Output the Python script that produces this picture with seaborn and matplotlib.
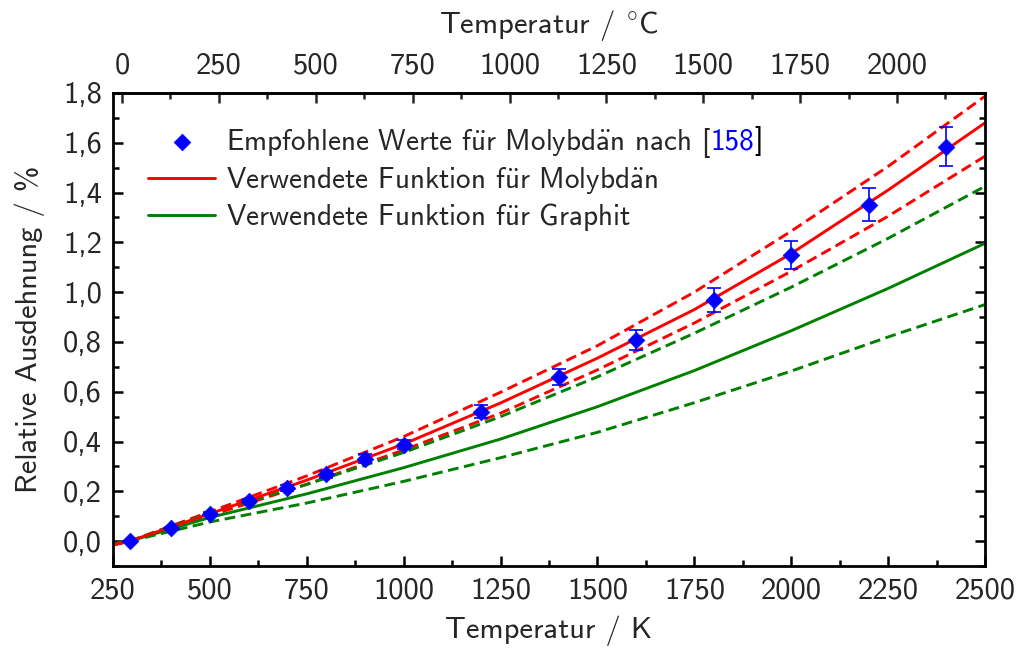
import numpy as np
import pandas as pd
import matplotlib
matplotlib.use("Agg")
import matplotlib.pyplot as plt
from matplotlib.ticker import MultipleLocator, FixedLocator, FuncFormatter
import seaborn as sns

# ---- data ----
T_points = [293, 400, 500, 600, 700, 800, 900, 1000, 1200, 1400, 1600, 1800, 2000, 2200, 2400]
dL_points = [0.0, 0.054, 0.11, 0.16, 0.214, 0.268, 0.331, 0.388, 0.52, 0.66, 0.807, 0.968, 1.149, 1.352, 1.584]
dL_err = [0.0, 0.003, 0.006, 0.008, 0.011, 0.013, 0.017, 0.019, 0.026, 0.033, 0.04, 0.047, 0.057, 0.066, 0.079]

T_curve = [250, 293, 500, 750, 1000, 1250, 1500, 1750, 2000, 2250, 2500]
mo = [-0.015, 0.0, 0.11, 0.245, 0.39, 0.555, 0.735, 0.93, 1.155, 1.41, 1.68]
mo_hi = [-0.016, 0.0, 0.118, 0.262, 0.42, 0.598, 0.785, 1.0, 1.245, 1.505, 1.787]
mo_lo = [-0.014, 0.0, 0.102, 0.228, 0.366, 0.514, 0.688, 0.876, 1.084, 1.305, 1.546]
gr = [-0.012, 0.0, 0.095, 0.19, 0.295, 0.41, 0.54, 0.685, 0.845, 1.015, 1.196]
gr_hi = [-0.014, 0.0, 0.114, 0.228, 0.356, 0.50, 0.66, 0.835, 1.02, 1.216, 1.425]
gr_lo = [-0.01, 0.0, 0.077, 0.153, 0.24, 0.335, 0.437, 0.556, 0.683, 0.82, 0.95]

top_ticks = [0, 250, 500, 750, 1000, 1250, 1500, 1750, 2000]

UE = r"$\ddot{\mathsf{u}}$"
AE = r"$\ddot{\mathsf{a}}$"
lbl_pts = "Empfohlene Werte f" + UE + "r Molybd" + AE + "n nach ["
lbl_ref = "158"
lbl_mo = "Verwendete Funktion f" + UE + "r Molybd" + AE + "n"
lbl_gr = "Verwendete Funktion f" + UE + "r Graphit"

sns.set_theme(style="white")
plt.rcParams["font.family"] = ["cmss10", "DejaVu Sans"]
plt.rcParams["mathtext.fontset"] = "cm"
FS = 22
LFS = 21

fig = plt.figure(figsize=(10.19, 6.48), dpi=100)
ax = fig.add_axes([0.1109, 0.1265, 0.9666 - 0.1109, 0.8565 - 0.1265])

RED = "#ff0000"
GREEN = "#008000"
BLUE = "#0000ff"
LW = 2.1
dash = (0, (3.7, 1.9))

sns.lineplot(x=T_curve, y=mo_hi, ax=ax, color=RED, lw=LW, linestyle=dash, legend=False)
sns.lineplot(x=T_curve, y=mo_lo, ax=ax, color=RED, lw=LW, linestyle=dash, legend=False)
sns.lineplot(x=T_curve, y=gr_hi, ax=ax, color=GREEN, lw=LW, linestyle=dash, legend=False)
sns.lineplot(x=T_curve, y=gr_lo, ax=ax, color=GREEN, lw=LW, linestyle=dash, legend=False)
sns.lineplot(x=T_curve, y=gr, ax=ax, color=GREEN, lw=LW, label=lbl_gr)
sns.lineplot(x=T_curve, y=mo, ax=ax, color=RED, lw=LW, label=lbl_mo)

ax.errorbar(T_points, dL_points, yerr=dL_err, fmt="none", ecolor=BLUE,
            elinewidth=1.2, capsize=5, capthick=1.2, zorder=4)
sns.scatterplot(x=T_points, y=dL_points, ax=ax, marker="D", s=72, color=BLUE,
                edgecolor=BLUE, linewidth=0.5, zorder=5, label=lbl_pts)

ax.set_xlim(250, 2500)
ax.set_ylim(-0.1, 1.8)
ax.xaxis.set_major_locator(MultipleLocator(250))
ax.xaxis.set_minor_locator(MultipleLocator(125))
ax.set_yticks(np.arange(0, 1.81, 0.2))
ax.yaxis.set_minor_locator(MultipleLocator(0.1))
ax.yaxis.set_major_formatter(FuncFormatter(lambda v, p: f"{v:.1f}".replace(".", ",")))

for s in ax.spines.values():
    s.set_linewidth(2.0)
    s.set_color("black")
ax.tick_params(which="both", direction="in", top=False, right=True, bottom=True, left=True,
               width=1.8, color="black", labelsize=FS, pad=8)
ax.tick_params(which="major", length=7)
ax.tick_params(which="minor", length=4)

ax.set_xlabel("Temperatur / K", fontsize=FS, labelpad=8)
ax.set_ylabel("Relative Ausdehnung / %", fontsize=FS, labelpad=13)

sec = ax.secondary_xaxis("top", functions=(lambda k: k - 273.15, lambda c: c + 273.15))
sec.xaxis.set_major_locator(FixedLocator(top_ticks))
sec.xaxis.set_minor_locator(FixedLocator([t + 125 for t in top_ticks]))
sec.tick_params(which="both", direction="in", width=1.8, labelsize=FS, pad=10)
sec.tick_params(which="major", length=7)
sec.tick_params(which="minor", length=4)
sec.spines["top"].set_linewidth(2.0)
sec.set_xlabel("Temperatur / $^{\\circ}$C", fontsize=FS, labelpad=14)

handles, labels = ax.get_legend_handles_labels()
order = [labels.index(lbl_pts), labels.index(lbl_mo), labels.index(lbl_gr)]
leg = ax.legend([handles[i] for i in order], [labels[i] for i in order],
                loc="upper left", bbox_to_anchor=(0.027, 0.957), borderaxespad=0,
                frameon=False, fontsize=LFS, handlelength=2.3, handletextpad=0.35,
                labelspacing=0.17)

fig.canvas.draw()
renderer = fig.canvas.get_renderer()
t0 = leg.get_texts()[0]
bb = t0.get_window_extent(renderer)
_, _, descent = t0._get_layout(renderer)
a1 = ax.annotate(lbl_ref, xy=(bb.x1, bb.y0 + descent), xycoords="figure pixels",
                 va="baseline", ha="left", color=BLUE, fontsize=LFS)
a2 = ax.annotate("]", xy=(1, 0), xycoords=a1, va="bottom", ha="left",
                 color="black", fontsize=LFS)

fig.savefig("out.png", dpi=100)
